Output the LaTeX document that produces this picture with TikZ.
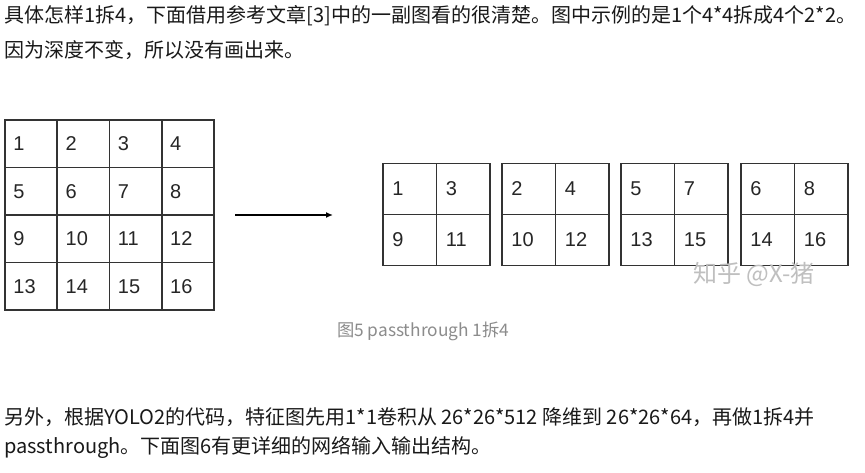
\documentclass[tikz,border=0pt]{standalone}
\usepackage{fontspec}
\newfontfamily\cjk{Noto Sans CJK SC}
\newfontfamily\arialfont{Liberation Sans}
\usetikzlibrary{arrows.meta}
\tikzset{
  cell/.style={draw=black!80,line width=1.6pt,inner sep=0pt},
  num/.style={anchor=west,inner sep=0pt,font=\arialfont\fontsize{20}{20}\selectfont,text=black!85},
  para/.style={anchor=west,inner sep=0pt,font=\cjk\fontsize{20}{20}\selectfont,text=black!90},
}
\begin{document}
\begin{tikzpicture}[x=1pt,y=-1pt]
  \useasboundingbox[fill=white] (0,0) rectangle (865,472);

  % text above
  \node[para] (line1) at (4,16) {具体怎样1拆4，下面借用参考文章[3]中的一副图看的很清楚。图中示例的是1个4*4拆成4个2*2。};
  \node[para] (line2) at (4,50) {因为深度不变，所以没有画出来。};

  % 4x4 map
  \foreach \r in {0,...,3}
    \foreach \c in {0,...,3}{
      \pgfmathtruncatemacro\v{4*\r+\c+1}
      \node[cell,minimum width=52.25pt,minimum height=47.5pt] (big-\v)
        at (5+52.25*\c+26.125,120+47.5*\r+23.75) {};
      \node[num] (bignum-\v) at ([xshift=9pt]big-\v.west) {\v};
    }

  \coordinate (arrow-tail) at (235,215);
  \coordinate (arrow-head) at (333,215);
  \draw[line width=1.5pt,-{Latex[length=7pt,width=6pt]}] (arrow-tail) -- (arrow-head);

  % four 2x2 maps
  \foreach \g/\gx in {0/383,1/502,2/621,3/741}{
    \pgfmathtruncatemacro\ro{\g/2}
    \pgfmathtruncatemacro\co{mod(\g,2)}
    \foreach \i in {0,1}
      \foreach \j in {0,1}{
        \pgfmathtruncatemacro\v{(2*\i+\ro)*4+2*\j+\co+1}
        \node[cell,minimum width=53.5pt,minimum height=51pt] (small-\v)
          at (\gx+53.5*\j+26.75,163.5+51*\i+25.5) {};
        \node[num] (smallnum-\v) at ([xshift=10pt]small-\v.west) {\v};
      }
  }

  \node[anchor=west,inner sep=0pt,font=\cjk\fontsize{24}{24}\selectfont,text=black!25]
    (watermark) at (693,274) {知乎 @X-猪};
  \node[anchor=west,inner sep=0pt,font=\cjk\fontsize{17.3}{17.3}\selectfont,text=black!45]
    (caption) at (337,331) {图5 passthrough 1拆4};

  % text below
  \node[para] (line3) at (4,417) {另外，根据YOLO2的代码，特征图先用1*1卷积从 26*26*512 降维到 26*26*64，再做1拆4并};
  \node[para] (line4) at (4,447) {passthrough。下面图6有更详细的网络输入输出结构。};
\end{tikzpicture}
\end{document}
